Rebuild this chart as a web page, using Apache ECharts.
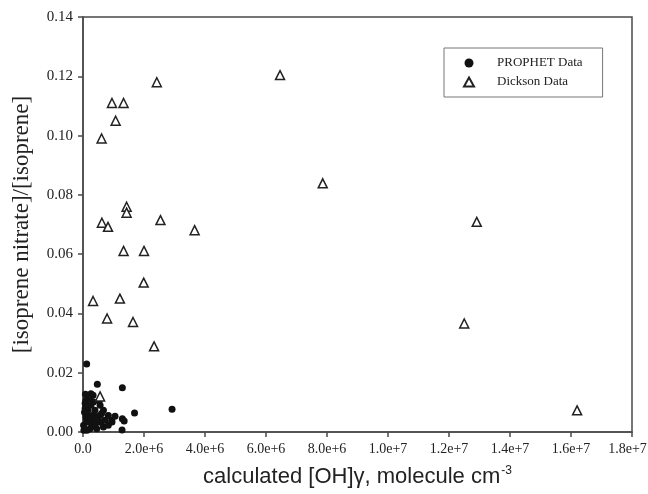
<!DOCTYPE html>
<html style="height: 100%">
<head>
  <meta charset="utf-8">
</head>
<body style="height: 100%; margin: 0; background: #fff">
  <div id="container" style="width: 648px; height: 494px"></div>
  <script src="https://cdn.jsdelivr.net/npm/echarts@6/dist/echarts.min.js"></script>
  <script>
    // calculated [OH]gamma (molecule cm-3) vs [isoprene nitrate]/[isoprene]
    var prophetX = [0.12e6, 0.47e6, 1.29e6, 0.26e6, 0.33e6, 0.10e6, 0.53e6, 0.07e6, 0.23e6, 0.34e6,
      0.56e6, 0.67e6, 0.94e6, 0.07e6, 0.17e6, 0.34e6, 0.50e6, 0.67e6, 0.02e6, 0.23e6,
      0.45e6, 0.83e6, 0.12e6, 0.56e6, 0.39e6, 1.69e6, 2.92e6, 1.29e6, 1.35e6, 0.95e6,
      0.83e6, 1.28e6, 0.61e6, 0.03e6, 0.13e6, 0.30e6, 0.39e6, 0.16e6, 0.26e6, 0.05e6,
      0.36e6, 0.46e6, 0.59e6, 0.10e6, 0.20e6, 0.72e6, 0.08e6, 1.05e6];
    var prophetY = [0.0229, 0.0161, 0.0149, 0.0129, 0.0124, 0.0107, 0.0105, 0.0097, 0.0113, 0.0101,
      0.0090, 0.0073, 0.0039, 0.0079, 0.0056, 0.0045, 0.0034, 0.0017, 0.0023, 0.0011,
      0.0011, 0.0023, 0.0039, 0.0056, 0.0073, 0.0064, 0.0077, 0.0045, 0.0037, 0.0034,
      0.0056, 0.0007, 0.0062, 0.0006, 0.0006, 0.0019, 0.0026, 0.0073, 0.0090, 0.0067,
      0.0060, 0.0043, 0.0033, 0.0050, 0.0033, 0.0040, 0.0127, 0.0053];

    var dicksonX = [2.42e6, 0.95e6, 1.33e6, 1.07e6, 0.61e6, 1.43e6, 1.43e6, 0.62e6, 0.82e6, 2.54e6,
      3.66e6, 1.33e6, 2.00e6, 1.99e6, 0.33e6, 1.21e6, 0.79e6, 1.64e6, 2.33e6, 6.46e6,
      7.86e6, 12.91e6, 12.50e6, 16.2e6, 0.56e6];
    var dicksonY = [0.118, 0.111, 0.111, 0.105, 0.099, 0.076, 0.074, 0.0706, 0.0692, 0.0715,
      0.0681, 0.0611, 0.0611, 0.0504, 0.0442, 0.0450, 0.0383, 0.0371, 0.0289, 0.1204,
      0.0839, 0.0709, 0.0366, 0.0073, 0.0120];

    var xTickLabels = ['0.0', '2.0e+6', '4.0e+6', '6.0e+6', '8.0e+6', '1.0e+7', '1.2e+7', '1.4e+7', '1.6e+7', '1.8e+7'];
    var yTickLabels = ['0.00', '0.02', '0.04', '0.06', '0.08', '0.10', '0.12', '0.14'];

    function pairs(xs, ys) {
      return xs.map(function (x, i) { return [x, ys[i]]; });
    }

    var serif = '"Liberation Serif", "DejaVu Serif", serif';
    var sans = '"Liberation Sans", Arial, sans-serif';
    var axisColor = '#4a4a4a';

    var myChart = echarts.init(document.getElementById('container'), null, { renderer: 'canvas' });

    var option = {
      backgroundColor: '#fff',
      animation: false,
      grid: {
        left: 83,
        right: 16,
        top: 17,
        bottom: 62,
        outerBoundsMode: 'none',
        containLabel: false,
        show: true,
        borderColor: axisColor,
        borderWidth: 1.5
      },
      legend: {
        orient: 'vertical',
        left: 444,
        top: 48,
        width: 156,
        padding: [8, 20, 8, 19],
        itemGap: 5,
        itemWidth: 10,
        itemHeight: 9,
        borderColor: '#777',
        borderWidth: 1,
        textStyle: {
          fontFamily: serif,
          fontSize: 13,
          color: '#222',
          lineHeight: 14,
          padding: [0, 0, 0, 18]
        },
        data: ['PROPHET Data', 'Dickson Data']
      },
      xAxis: {
        type: 'value',
        min: 0,
        max: 1.8e7,
        interval: 2e6,
        name: 'calculated [OH]γ, molecule cm{sup|-3}',
        nameLocation: 'middle',
        nameGap: 33,
        nameTextStyle: {
          fontFamily: sans,
          fontSize: 22,
          color: '#222',
          rich: {
            sup: { fontFamily: sans, fontSize: 12, color: '#222', verticalAlign: 'top', padding: [0, 0, 12, 1] }
          }
        },
        axisLine: { onZero: false, lineStyle: { color: axisColor, width: 1.5 } },
        axisTick: { length: 5, lineStyle: { color: axisColor, width: 1.5 } },
        splitLine: { show: false },
        axisLabel: {
          margin: 10,
          fontFamily: serif,
          fontSize: 14,
          color: '#222',
          rich: {
            last: { fontFamily: serif, fontSize: 14, color: '#222', padding: [0, 9, 0, 0] }
          },
          formatter: function (v) {
            var i = Math.round(v / 2e6);
            return i === xTickLabels.length - 1 ? '{last|' + xTickLabels[i] + '}' : xTickLabels[i];
          }
        }
      },
      yAxis: {
        type: 'value',
        min: 0,
        max: 0.14,
        interval: 0.02,
        name: '[isoprene nitrate]/[isoprene]',
        nameLocation: 'middle',
        nameGap: 50,
        nameTextStyle: {
          fontFamily: serif,
          fontSize: 23,
          color: '#222'
        },
        axisLine: { onZero: false, lineStyle: { color: axisColor, width: 1.5 } },
        axisTick: { length: 5, lineStyle: { color: axisColor, width: 1.5 } },
        splitLine: { show: false },
        axisLabel: {
          margin: 10,
          fontFamily: serif,
          fontSize: 15,
          color: '#222',
          formatter: function (v) { return yTickLabels[Math.round(v / 0.02)]; }
        }
      },
      series: [
        {
          name: 'PROPHET Data',
          type: 'scatter',
          symbol: 'circle',
          symbolSize: 7,
          itemStyle: { color: '#111', opacity: 1 },
          data: pairs(prophetX, prophetY)
        },
        {
          name: 'Dickson Data',
          type: 'scatter',
          symbol: 'triangle',
          symbolSize: 9,
          itemStyle: { color: '#fff', borderColor: '#222', borderWidth: 1.5, opacity: 1 },
          data: pairs(dicksonX, dicksonY)
        }
      ]
    };

    myChart.setOption(option);
    window.addEventListener('resize', myChart.resize);
  </script>
</body>
</html>
